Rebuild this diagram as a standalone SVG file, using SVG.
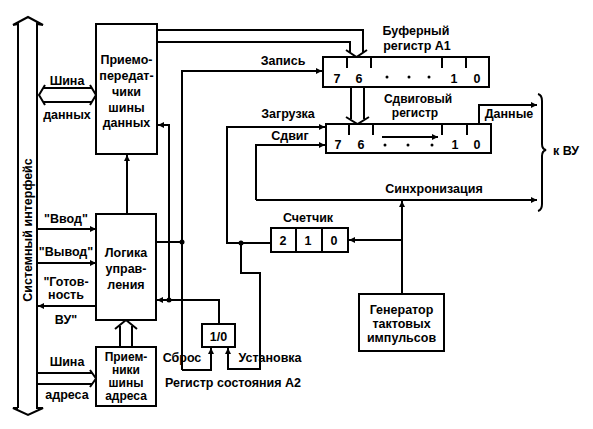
<svg xmlns="http://www.w3.org/2000/svg" width="593" height="429" viewBox="0 0 593 429">
<style>
text{font-family:"Liberation Sans",Arial,sans-serif;font-weight:bold;font-size:12.5px;fill:#000}
.c{text-anchor:middle}
.s{font-size:12px}
.box{fill:#fff;stroke:#000;stroke-width:2}
.ln{fill:none;stroke:#000;stroke-width:2}
.ar{fill:none;stroke:#000;stroke-width:2;marker-end:url(#a)}
</style>
<defs>
<marker id="a" markerUnits="userSpaceOnUse" viewBox="0 0 6 6" refX="6" refY="3" markerWidth="6" markerHeight="6" orient="auto">
<path d="M0,0 L6,3 L0,6 z" fill="#000"/>
</marker>
</defs>
<rect width="593" height="429" fill="#fff"/>

<g id="system-bus">
<polyline class="ln" points="18,408 18,24 13,25 28,17 43,25 37,24 37,408 43,408 28,415 13,408 18,408"/>
<text class="c" transform="translate(32,230) rotate(-90)" font-size="12">Системный интерфейс</text>
</g>

<g id="connectors">
<!-- data bus double arrow -->
<line class="ln" x1="43" y1="88" x2="92" y2="88"/>
<line class="ln" x1="43" y1="102" x2="92" y2="102"/>
<polyline class="ln" points="45,85 39,95 45,105"/>
<polyline class="ln" points="90,85 96,95 90,105"/>
<!-- address bus arrow -->
<line class="ln" x1="37" y1="373" x2="92" y2="373"/>
<line class="ln" x1="37" y1="384" x2="92" y2="384"/>
<polyline class="ln" points="90,370 96,378.5 90,387"/>
<!-- control signals -->
<line class="ar" x1="37" y1="229" x2="96" y2="229"/>
<line class="ar" x1="37" y1="263" x2="96" y2="263"/>
<line class="ar" x1="96" y1="306" x2="38" y2="306"/>
<!-- logic -> transceivers -->
<line class="ar" x1="127" y1="214" x2="127" y2="155"/>
<!-- address receivers -> logic -->
<line class="ln" x1="120" y1="347" x2="120" y2="326"/>
<line class="ln" x1="132" y1="347" x2="132" y2="326"/>
<polyline class="ln" points="115,329 126,320 137,329"/>
<!-- transceivers -> buffer register -->
<polyline class="ln" points="157,30 363,30 363,52"/>
<polyline class="ln" points="157,42 350,42 350,52"/>
<polyline class="ln" points="346,50 356.5,57 367,50"/>
<!-- buffer -> shift register -->
<line class="ln" x1="351" y1="87" x2="351" y2="119"/>
<line class="ln" x1="364" y1="87" x2="364" y2="119"/>
<polyline class="ln" points="346,117 357.5,124 369,117"/>
<!-- Запись / Сброс -->
<polyline class="ar" points="182,370 182,71 322,71"/>
<polyline class="ar" points="182,370 211,370 211,348"/>
<line class="ln" x1="156" y1="242" x2="182" y2="242"/>
<!-- to transceivers / status -->
<polyline class="ar" points="169,300 169,125 158,125"/>
<polyline class="ar" points="219,324 219,300 157,300"/>
<!-- Загрузка / Установка -->
<polyline class="ar" points="271,243 227,243 227,127 325,127"/>
<polyline class="ar" points="241,243 241,273 260,273 260,369 228,369 228,348"/>
<!-- Сдвиг / sync -->
<polyline class="ar" points="256,200 256,145 325,145"/>
<line class="ar" x1="256" y1="200" x2="537" y2="200"/>
<!-- generator -->
<line class="ar" x1="402" y1="294" x2="402" y2="201"/>
<line class="ar" x1="402" y1="240" x2="349" y2="240"/>
<!-- Данные -->
<polyline class="ar" points="479,124 479,105 537,105"/>
<!-- brace -->
<path class="ln" d="M538,94 Q542,95 542,101 L542,144 Q542,149 546,150 Q542,151 542,156 L542,204 Q542,210 538,211" stroke-width="1.5"/>
<!-- junctions -->
<circle cx="182" cy="242" r="2.5"/>
<circle cx="169" cy="300" r="2.5"/>
<circle cx="241" cy="243" r="2.5"/>
</g>

<g id="transceivers">
<rect class="box" x="96" y="24" width="61" height="130"/>
<text class="c" x="126.5" y="64">Приемо-</text>
<text class="c" x="126.5" y="80">передат-</text>
<text class="c" x="126.5" y="96">чики</text>
<text class="c" x="126.5" y="112">шины</text>
<text class="c" x="126.5" y="127">данных</text>
</g>

<g id="logic">
<rect class="box" x="96" y="214" width="60" height="106"/>
<text class="c" x="126" y="257">Логика</text>
<text class="c" x="126" y="273">управ-</text>
<text class="c" x="126" y="289">ления</text>
</g>

<g id="address-receivers">
<rect class="box" x="96" y="347" width="60" height="59"/>
<text class="c s" x="126" y="361">Прием-</text>
<text class="c s" x="126" y="374">ники</text>
<text class="c s" x="126" y="387">шины</text>
<text class="c s" x="126" y="400">адреса</text>
</g>

<g id="buffer-register">
<rect class="box" x="323" y="57" width="166" height="30"/>
<path class="ln" d="M347,57V68M371,57V68M442,57V68M466,57V68"/>
<text class="c" x="337" y="83">7</text>
<text class="c" x="359" y="83">6</text>
<circle cx="387" cy="77" r="1.5"/>
<circle cx="409" cy="77" r="1.5"/>
<circle cx="429" cy="77" r="1.5"/>
<text class="c" x="454" y="83">1</text>
<text class="c" x="477" y="83">0</text>
</g>

<g id="shift-register">
<rect class="box" x="326" y="124" width="165" height="29"/>
<path class="ln" d="M349,124V135M373,124V135M442,124V135M467,124V135"/>
<line class="ar" x1="382" y1="137" x2="438" y2="137"/>
<text class="c" x="338" y="149">7</text>
<text class="c" x="361" y="149">6</text>
<circle cx="385" cy="145" r="1.5"/>
<circle cx="408" cy="145" r="1.5"/>
<circle cx="432" cy="145" r="1.5"/>
<text class="c" x="455" y="149">1</text>
<text class="c" x="477" y="149">0</text>
</g>

<g id="counter">
<rect class="box" x="271" y="228" width="77" height="24"/>
<path class="ln" d="M296,228V252M322,228V252"/>
<text class="c" x="283" y="245">2</text>
<text class="c" x="308" y="245">1</text>
<text class="c" x="334" y="245">0</text>
</g>

<g id="status-register">
<rect class="box" x="202" y="324" width="33" height="23"/>
<text class="c" x="218.5" y="341">1/0</text>
</g>

<g id="generator">
<rect class="box" x="359" y="294" width="85" height="57"/>
<text class="c" x="401.5" y="314">Генератор</text>
<text class="c" x="401.5" y="328">тактовых</text>
<text class="c" x="401.5" y="342">импульсов</text>
</g>

<g id="labels">
<text class="c" x="67" y="85">Шина</text>
<text class="c" x="67" y="119">данных</text>
<text class="c" x="66" y="223">"Ввод"</text>
<text class="c" x="66" y="256">"Вывод"</text>
<text class="c" x="66" y="286">"Готов-</text>
<text class="c" x="66" y="299">ность</text>
<text class="c" x="66" y="324">ВУ"</text>
<text class="c" x="67" y="366">Шина</text>
<text class="c" x="67" y="399">адреса</text>
<text class="c" x="416" y="35">Буферный</text>
<text class="c" x="417" y="50">регистр А1</text>
<text class="c s" x="418" y="103">Сдвиговый</text>
<text class="c s" x="415" y="117">регистр</text>
<text class="c" x="509" y="118">Данные</text>
<text class="c" x="566" y="155">к ВУ</text>
<text class="c" x="434" y="193">Синхронизация</text>
<text class="c" x="283" y="65">Запись</text>
<text class="c" x="288" y="118">Загрузка</text>
<text class="c" x="290" y="140">Сдвиг</text>
<text class="c" x="308" y="222">Счетчик</text>
<text class="c" x="182" y="362">Сброс</text>
<text class="c" x="270" y="362">Установка</text>
<text class="c" x="233" y="387">Регистр состояния А2</text>
</g>
</svg>
